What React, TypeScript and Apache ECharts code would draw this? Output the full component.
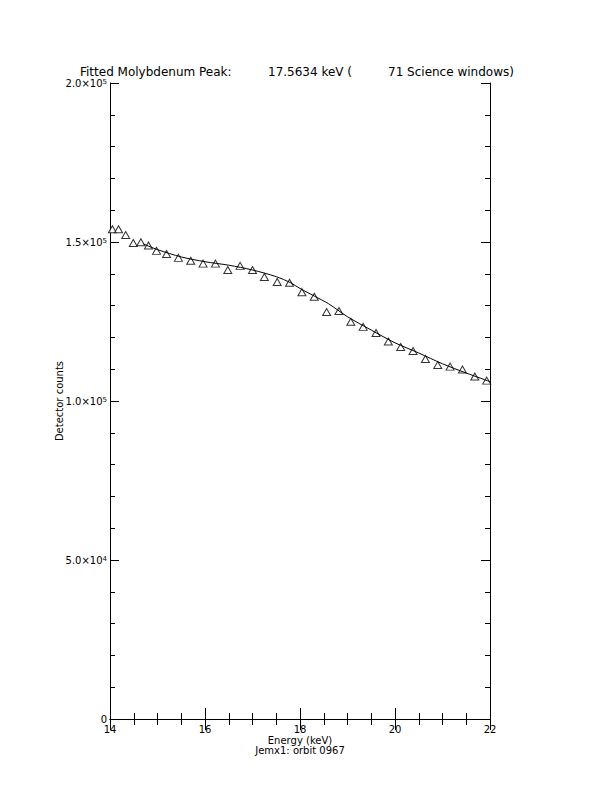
import React, { useEffect, useRef } from "react";
import * as echarts from "echarts";

const energies = [14.05, 14.18, 14.33, 14.49, 14.65, 14.81, 14.98, 15.19, 15.44, 15.7, 15.96, 16.22, 16.48, 16.74, 17.0, 17.25, 17.52, 17.78, 18.04, 18.3, 18.56, 18.82, 19.07, 19.33, 19.6, 19.86, 20.12, 20.38, 20.64, 20.9, 21.16, 21.42, 21.68, 21.93];
const counts = [154000, 154000, 152200, 149700, 149900, 148900, 147200, 146200, 145000, 144100, 143200, 143200, 141200, 142500, 141200, 139000, 137400, 137200, 134200, 132800, 128000, 128300, 124900, 123300, 121400, 118700, 117000, 115700, 113200, 111300, 110800, 109900, 107700, 106400];

const fitEnergies = [14.7, 15.0, 15.5, 16.0, 16.5, 17.0, 17.5, 17.8, 18.0, 18.3, 18.6, 19.0, 19.5, 20.0, 20.5, 21.0, 21.5, 22.0];
const fitCounts = [149400, 147600, 145300, 143800, 142700, 141200, 139100, 137200, 135400, 133000, 130600, 126500, 122300, 118300, 115100, 111700, 108800, 106100];

const xTicks = [14, 16, 18, 20, 22];
const yTickLabels: Record<number, string> = {
  0: "0",
  50000: "5.0×10{sup|4}",
  100000: "1.0×10{sup|5}",
  150000: "1.5×10{sup|5}",
  200000: "2.0×10{sup|5}",
};

const FONT = "DejaVu Sans";

export default function App() {
  const ref = useRef<HTMLDivElement>(null);
  useEffect(() => {
    if (!ref.current) return;
    const chart = echarts.init(ref.current, null, { renderer: "svg" });
    const axisLine = { show: true, lineStyle: { color: "#000", width: 1 } };
    const xTick = { show: true, inside: true, length: 11, lineStyle: { color: "#000" } };
    const xMinor = { show: true, splitNumber: 4, length: 6, lineStyle: { color: "#000" } };
    const yTick = { show: true, inside: true, length: 9, lineStyle: { color: "#000" } };
    const yMinor = { show: true, splitNumber: 5, length: 5, lineStyle: { color: "#000" } };
    chart.setOption({
      animation: false,
      backgroundColor: "#fff",
      grid: { left: 110, top: 83, width: 380, height: 636 },
      xAxis: [
        {
          type: "value", min: 14, max: 22, interval: 2,
          axisLine, axisTick: xTick, minorTick: xMinor, splitLine: { show: false },
          axisLabel: { color: "#000", fontFamily: FONT, fontSize: 10, margin: 5,
            formatter: (v: number) => (xTicks.includes(v) ? String(v) : "") },
          name: "Energy (keV)\nJemx1: orbit 0967",
          nameLocation: "middle", nameGap: 16, nameMoveOverlap: false,
          nameTextStyle: { color: "#000", fontFamily: FONT, fontSize: 10, lineHeight: 10 },
        },
        {
          type: "value", position: "top", min: 14, max: 22, interval: 2,
          axisLine, axisTick: xTick, minorTick: xMinor, splitLine: { show: false },
          axisLabel: { show: false },
        },
      ],
      yAxis: [
        {
          type: "value", min: 0, max: 200000, interval: 50000,
          axisLine, axisTick: yTick, minorTick: yMinor, splitLine: { show: false },
          axisLabel: {
            color: "#000", fontFamily: FONT, fontSize: 10, margin: 3,
            formatter: (v: number) => yTickLabels[v] ?? "",
            rich: { sup: { fontSize: 7, verticalAlign: "top", padding: [0, 0, 3, 0], fontFamily: FONT, color: "#000" } },
          },
          name: "Detector counts", nameLocation: "middle", nameGap: 46, nameRotate: 90, nameMoveOverlap: false,
          nameTextStyle: { color: "#000", fontFamily: FONT, fontSize: 10 },
        },
        {
          type: "value", position: "right", min: 0, max: 200000, interval: 50000,
          axisLine, axisTick: yTick, minorTick: yMinor, splitLine: { show: false },
          axisLabel: { show: false },
        },
      ],
      graphic: [
        { type: "text", left: 80, top: 66, style: { text: "Fitted Molybdenum Peak:", fontFamily: FONT, fontSize: 12, fill: "#000" } },
        { type: "text", left: 268, top: 66, style: { text: "17.5634 keV (", fontFamily: FONT, fontSize: 12, fill: "#000" } },
        { type: "text", left: 388, top: 66, style: { text: "71 Science windows)", fontFamily: FONT, fontSize: 12, fill: "#000" } },
      ],
      series: [
        {
          type: "line", xAxisIndex: 0, yAxisIndex: 0,
          data: fitEnergies.map((e, i) => [e, fitCounts[i]]),
          smooth: 0.3, showSymbol: false, symbol: "none",
          lineStyle: { color: "#000", width: 1 },
        },
        {
          type: "scatter", xAxisIndex: 0, yAxisIndex: 0,
          data: energies.map((e, i) => [e, counts[i]]),
          symbol: "triangle", symbolSize: [8, 7],
          itemStyle: { color: "#fff", borderColor: "#000", borderWidth: 1 },
        },
      ],
    });
    return () => chart.dispose();
  }, []);
  return <div ref={ref} style={{ position: "fixed", left: 0, top: 0, width: 612, height: 792 }} />;
}
